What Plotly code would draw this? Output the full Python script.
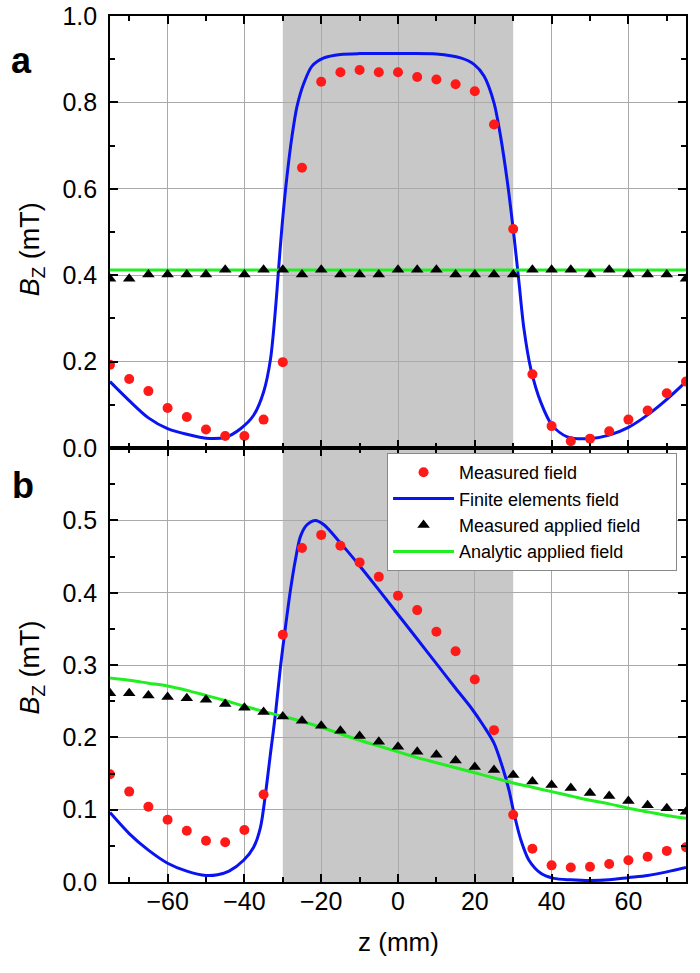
import plotly.graph_objects as go

# ---------------- data ----------------
z_pts = [-75, -70, -65, -60, -55, -50, -45, -40, -35, -30, -25, -20, -15, -10, -5,
         0, 5, 10, 15, 20, 25, 30, 35, 40, 45, 50, 55, 60, 65, 70, 75]

# panel a
a_measured = [0.193, 0.160, 0.132, 0.093, 0.072, 0.043, 0.028, 0.028, 0.066, 0.199,
              0.649, 0.848, 0.870, 0.875, 0.870, 0.870, 0.859, 0.853, 0.842, 0.826,
              0.749, 0.507, 0.171, 0.051, 0.016, 0.022, 0.039, 0.066, 0.087, 0.127, 0.154]
a_applied = [0.392, 0.392, 0.402, 0.402, 0.402, 0.402, 0.413, 0.402, 0.413, 0.413,
             0.402, 0.413, 0.402, 0.402, 0.402, 0.413, 0.413, 0.413, 0.402, 0.402,
             0.402, 0.402, 0.413, 0.413, 0.413, 0.402, 0.413, 0.402, 0.402, 0.402, 0.392]
a_fe_z = [-75, -70, -65, -60, -55, -50, -45, -41, -37.6, -35, -33.2, -31.9, -31.1, -30.2,
          -28.9, -27.6, -26.3, -24.5, -22.4, -19.3, -15, -10, 0, 10, 16.3, 19.8, 22.4,
          25, 26.7, 28.5, 30.2, 31.5, 32.8, 34.6, 37.2, 40.2, 44.1, 50, 55, 60, 65, 70, 75]
a_fe_b = [0.154, 0.110, 0.070, 0.045, 0.032, 0.023, 0.025, 0.045, 0.076, 0.130, 0.206,
          0.322, 0.414, 0.514, 0.630, 0.722, 0.791, 0.845, 0.884, 0.903, 0.911, 0.913,
          0.913, 0.912, 0.903, 0.888, 0.861, 0.799, 0.722, 0.615, 0.491, 0.384, 0.276,
          0.183, 0.106, 0.052, 0.026, 0.022, 0.030, 0.048, 0.077, 0.113, 0.154]
a_an_z = [-75, 75]
a_an_b = [0.412, 0.412]

# panel b
b_measured = [0.149, 0.125, 0.104, 0.086, 0.071, 0.057, 0.055, 0.072, 0.121, 0.342,
              0.462, 0.480, 0.465, 0.442, 0.422, 0.396, 0.376, 0.346, 0.319, 0.280,
              0.210, 0.093, 0.046, 0.023, 0.020, 0.021, 0.025, 0.030, 0.035, 0.043, 0.048]
b_applied = [0.261, 0.261, 0.258, 0.256, 0.254, 0.252, 0.246, 0.241, 0.235, 0.229,
             0.223, 0.216, 0.209, 0.202, 0.194, 0.187, 0.180, 0.176, 0.168, 0.159,
             0.155, 0.148, 0.139, 0.134, 0.130, 0.123, 0.119, 0.112, 0.106, 0.102, 0.097]
b_fe_z = [-75, -70, -65, -60, -55, -50, -47, -44, -40.2, -37.6, -35.8, -34.5, -33.2,
          -31.9, -30.6, -29.3, -28, -26.7, -25.4, -23.7, -21.5, -19.3, -15, -9.8, -5, 0,
          5, 10, 15, 18.9, 22.4, 25, 27.2, 28.9, 30.2, 32, 34.1, 37.2, 40.6, 45, 50, 55,
          60, 65, 70, 75]
b_fe_b = [0.096, 0.067, 0.044, 0.026, 0.015, 0.009, 0.010, 0.015, 0.030, 0.048, 0.076,
          0.122, 0.178, 0.233, 0.298, 0.353, 0.404, 0.446, 0.478, 0.494, 0.500, 0.494,
          0.469, 0.436, 0.404, 0.370, 0.336, 0.302, 0.268, 0.242, 0.215, 0.192, 0.159,
          0.127, 0.095, 0.058, 0.030, 0.012, 0.005, 0.003, 0.002, 0.003, 0.006, 0.009,
          0.014, 0.020]
b_an_b = [0.282, 0.279, 0.275, 0.271, 0.265, 0.258, 0.251, 0.243, 0.236, 0.229, 0.222,
          0.214, 0.205, 0.196, 0.188, 0.180, 0.172, 0.165, 0.158, 0.151, 0.144, 0.137,
          0.131, 0.125, 0.119, 0.113, 0.108, 0.102, 0.097, 0.092, 0.088]

x_ticks = [-60, -40, -20, 0, 20, 40, 60]
a_yticks = [0.0, 0.2, 0.4, 0.6, 0.8, 1.0]
b_yticks = [0.0, 0.1, 0.2, 0.3, 0.4, 0.5]
sample_region = [-30, 30]

# ---------------- styles ----------------
RED = "#ff1a1a"
BLUE = "#0a14f0"
GREEN = "#22ee22"
FONT = "Arial, Liberation Sans, sans-serif"
TICK_SIZE = 25
PAD = "\u00a0" * 6

fig = go.Figure()

def add_panel(xa, ya, fe_z, fe_b, an_z, an_b, meas, app, legend):
    fig.add_trace(go.Scatter(x=fe_z, y=fe_b, mode="lines", xaxis=xa, yaxis=ya,
                             line=dict(color=BLUE, width=3, shape="spline", smoothing=0.8),
                             name="Finite elements field" + PAD, legendrank=2,
                             showlegend=legend))
    fig.add_trace(go.Scatter(x=an_z, y=an_b, mode="lines", xaxis=xa, yaxis=ya,
                             line=dict(color=GREEN, width=3, shape="spline"),
                             name="Analytic applied field" + PAD, legendrank=4,
                             showlegend=legend))
    fig.add_trace(go.Scatter(x=z_pts, y=meas, mode="markers", xaxis=xa, yaxis=ya,
                             marker=dict(color=RED, size=10, symbol="circle"),
                             name="Measured field" + PAD, legendrank=1, showlegend=legend))
    fig.add_trace(go.Scatter(x=z_pts, y=app, mode="markers", xaxis=xa, yaxis=ya,
                             marker=dict(color="black", size=11, symbol="triangle-up"),
                             name="Measured applied field" + PAD, legendrank=3,
                             showlegend=legend))

add_panel("x2", "y2", a_fe_z, a_fe_b, a_an_z, a_an_b, a_measured, a_applied, False)
add_panel("x", "y", b_fe_z, b_fe_b, z_pts, b_an_b, b_measured, b_applied, True)

axis_common = dict(
    showline=True, linecolor="black", linewidth=1.6, mirror="ticks",
    ticks="inside", ticklen=8, tickwidth=1.6, tickcolor="black",
    showgrid=True, gridcolor="#a9a9a9", gridwidth=1, zeroline=False,
    automargin=False,
    tickfont=dict(family=FONT, size=TICK_SIZE, color="black"),
)

def minor(dt, t0):
    return dict(ticks="inside", ticklen=5, tickwidth=1.6, tickcolor="black",
                dtick=dt, tick0=t0, showgrid=False)

split = 0.501
fig.update_layout(
    width=700, height=973,
    margin=dict(l=110, r=14, t=16, b=91),
    paper_bgcolor="white", plot_bgcolor="white",
    font=dict(family=FONT, color="black"),
    xaxis=dict(axis_common, range=[-75, 75], tickvals=x_ticks, anchor="y",
               minor=minor(10, -70), ticklabelstandoff=-4),
    xaxis2=dict(axis_common, range=[-75, 75], tickvals=x_ticks, anchor="y2",
                matches="x", showticklabels=False, minor=minor(10, -70)),
    yaxis=dict(axis_common, range=[0, 0.6], domain=[0, split], tickvals=b_yticks,
               tickformat=".1f", anchor="x", minor=minor(0.05, 0), ticklabelstandoff=6),
    yaxis2=dict(axis_common, range=[0, 1.0], domain=[split, 1], tickvals=a_yticks,
                tickformat=".1f", anchor="x2", minor=minor(0.1, 0), ticklabelstandoff=6),
    legend=dict(x=0.481, y=0.4954, xanchor="left", yanchor="top",
                bgcolor="white", bordercolor="#888888", borderwidth=1,
                font=dict(family=FONT, size=18, color="black"),
                tracegroupgap=0, itemwidth=61),
    showlegend=True,
)

for xr, yr in (("x2", "y2 domain"), ("x", "y domain")):
    fig.add_shape(type="rect", xref=xr, yref=yr, x0=sample_region[0], x1=sample_region[1],
                  y0=0, y1=1, fillcolor="#c8c8c8", line=dict(width=0), layer="below")

# axis titles and panel letters
ytitle = "<i>B</i><sub>Z</sub> (mT)"
for yy in (0.731, 0.248):
    fig.add_annotation(text=ytitle, xref="paper", yref="paper", x=-0.135, y=yy,
                       xanchor="center", yanchor="middle", textangle=-90, showarrow=False,
                       font=dict(family=FONT, size=27, color="black"))
fig.add_annotation(text="z (mm)", xref="paper", yref="paper", x=0.5, y=-0.0693,
                   xanchor="center", yanchor="middle", showarrow=False,
                   font=dict(family=FONT, size=26, color="black"))
fig.add_annotation(text="<b>a</b>", xref="paper", yref="paper", x=-0.1528, y=0.949,
                   xanchor="center", yanchor="middle", showarrow=False,
                   font=dict(family=FONT, size=36, color="black"))
fig.add_annotation(text="<b>b</b>", xref="paper", yref="paper", x=-0.151, y=0.458,
                   xanchor="center", yanchor="middle", showarrow=False,
                   font=dict(family=FONT, size=36, color="black"))

fig.write_html("out.html", post_script="document.body.style.margin='0';",
               config={"displayModeBar": False})
